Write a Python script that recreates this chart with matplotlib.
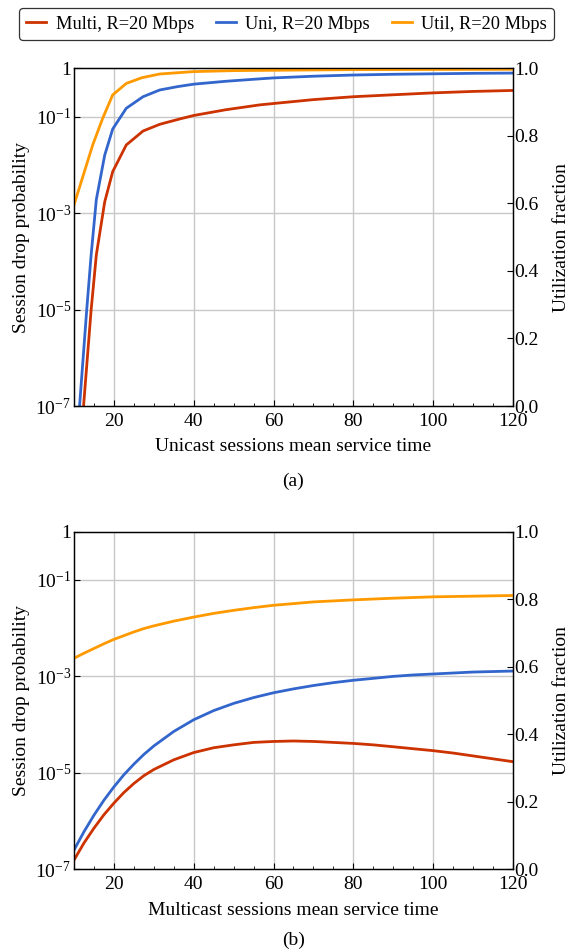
import matplotlib
matplotlib.use("Agg")
import matplotlib.pyplot as plt
from matplotlib.lines import Line2D

plt.rcParams["font.family"] = ["Liberation Serif", "DejaVu Serif"]
plt.rcParams["mathtext.fontset"] = "custom"
plt.rcParams["mathtext.rm"] = "Liberation Serif"
plt.rcParams["mathtext.it"] = "Liberation Serif:italic"
plt.rcParams["font.size"] = 14

# ---- panel (a): vs unicast mean service time ----
a_multi_x = [12.0, 12.4, 14.3, 15.6, 17.7, 19.7, 23.1, 27.3, 31.5, 36.5, 40, 48, 56.5, 60,
             70, 80, 90, 100, 110, 120]
a_multi_p = [4e-8, 1.0e-7, 9.8e-6, 1.35e-4, 1.7e-3, 7.2e-3, 0.0257, 0.050, 0.069, 0.089,
             0.105, 0.138, 0.174, 0.186, 0.224, 0.257, 0.282, 0.309, 0.331, 0.347]
a_uni_x = [11.0, 11.4, 13.2, 14.3, 15.6, 17.7, 19.7, 23.1, 27.3, 31.5, 36, 40, 48, 56.5, 60,
           70, 80, 90, 100, 110, 120]
a_uni_p = [3.5e-8, 1.0e-7, 1.0e-5, 1.35e-4, 1.9e-3, 0.0158, 0.055, 0.148, 0.257, 0.355,
           0.417, 0.468, 0.537, 0.603, 0.631, 0.684, 0.724, 0.750, 0.767, 0.785, 0.794]
a_util_x = [10, 14.7, 17.2, 19.7, 23.1, 27, 31.5, 39.8, 50, 60, 80, 120]
a_util_u = [0.595, 0.773, 0.852, 0.921, 0.955, 0.972, 0.983, 0.990, 0.993, 0.994, 0.996, 0.997]

# ---- panel (b): vs multicast mean service time ----
b_multi_x = [10, 12.5, 15, 17.5, 20, 22.5, 25, 27.5, 30, 35, 40, 45, 50, 55, 60, 65, 70,
             75, 80, 85, 90, 95, 100, 105, 110, 115, 120]
b_multi_p = [1.55e-7, 3.5e-7, 7.1e-7, 1.35e-6, 2.35e-6, 3.9e-6, 6.0e-6, 8.7e-6, 1.17e-5,
             1.86e-5, 2.63e-5, 3.31e-5, 3.8e-5, 4.27e-5, 4.47e-5, 4.57e-5, 4.47e-5, 4.27e-5,
             4.07e-5, 3.8e-5, 3.47e-5, 3.16e-5, 2.88e-5, 2.57e-5, 2.24e-5, 1.95e-5, 1.7e-5]
b_uni_x = [10, 12.5, 15, 17.5, 20, 22.5, 25, 27.5, 30, 35, 40, 45, 50, 55, 60, 65, 70, 75,
           80, 85, 90, 95, 100, 110, 120]
b_uni_p = [2.5e-7, 6.0e-7, 1.32e-6, 2.7e-6, 5.1e-6, 9.1e-6, 1.51e-5, 2.4e-5, 3.6e-5,
           7.2e-5, 1.26e-4, 1.95e-4, 2.75e-4, 3.63e-4, 4.57e-4, 5.5e-4, 6.46e-4, 7.41e-4,
           8.3e-4, 9.1e-4, 1.0e-3, 1.07e-3, 1.12e-3, 1.23e-3, 1.29e-3]
b_util_x = [10, 12.5, 15, 17.5, 20, 22.5, 25, 27.5, 30, 35, 40, 45, 50, 55, 60, 70, 80, 90,
            100, 110, 120]
b_util_u = [0.625, 0.640, 0.654, 0.668, 0.681, 0.692, 0.703, 0.713, 0.721, 0.735, 0.747,
            0.758, 0.767, 0.775, 0.782, 0.792, 0.798, 0.803, 0.807, 0.809, 0.811]

labels = ["Multi, R=20 Mbps", "Uni, R=20 Mbps", "Util, R=20 Mbps"]
c_multi, c_uni, c_util = "#CC3300", "#3366CC", "#FF9900"

y_ticks = [1, 1e-1, 1e-3, 1e-5, 1e-7]
y_ticklabels = ["1", r"$10^{-1}$", r"$10^{-3}$", r"$10^{-5}$", r"$10^{-7}$"]
x_ticks = [20, 40, 60, 80, 100, 120]

fig = plt.figure(figsize=(5.69, 9.52), dpi=100)


def panel(rect, mx, mp, ux, up, tx, tu, xlabel, tag, tag_y):
    ax = fig.add_axes(rect)
    ax.set_yscale("log")
    ax.set_xlim(10, 120)
    ax.set_ylim(1e-7, 1)
    ax.set_yticks(y_ticks)
    ax.set_yticklabels(y_ticklabels)
    ax.yaxis.set_minor_locator(matplotlib.ticker.NullLocator())
    ax.set_xticks(x_ticks)
    ax.set_xticks(range(15, 120, 5), minor=True)
    ax.tick_params(direction="in", length=4, width=0.8, top=False, right=False)
    ax.tick_params(axis="x", pad=5)
    ax.tick_params(axis="y", pad=2)
    ax.tick_params(which="minor", direction="in", length=2.5, width=0.6)
    for v in [20, 40, 60, 80, 100]:
        ax.axvline(v, color="#c8c8c8", lw=1.0, zorder=0)
    for v in [1e-1, 1e-3, 1e-5]:
        ax.axhline(v, color="#c8c8c8", lw=1.0, zorder=0)
    ax.plot(mx, mp, color=c_multi, lw=2.0)
    ax.plot(ux, up, color=c_uni, lw=2.0)
    ax.set_ylabel("Session drop probability", labelpad=4)
    ax.set_xlabel(xlabel, labelpad=6)
    ax2 = ax.twinx()
    ax2.set_ylim(0, 1)
    ax2.set_yticks([0, 0.2, 0.4, 0.6, 0.8, 1.0])
    ax2.set_yticklabels(["0.0", "0.2", "0.4", "0.6", "0.8", "1.0"])
    ax2.tick_params(direction="in", length=4, width=0.8, pad=1)
    ax2.plot(tx, tu, color=c_util, lw=2.0)
    ax2.set_ylabel("Utilization fraction", labelpad=10)
    for a in (ax, ax2):
        for s in a.spines.values():
            s.set_linewidth(0.9)
    ax.text(0.5, tag_y, tag, transform=ax.transAxes, ha="center", va="center")
    return ax


panel([0.130, 0.5735, 0.7716, 0.3548], a_multi_x, a_multi_p, a_uni_x, a_uni_p,
      a_util_x, a_util_u, "Unicast sessions mean service time", "(a)", -0.222)
panel([0.130, 0.0869, 0.7716, 0.3546], b_multi_x, b_multi_p, b_uni_x, b_uni_p,
      b_util_x, b_util_u, "Multicast sessions mean service time", "(b)", -0.212)

handles = [Line2D([], [], color=c, lw=2.0) for c in (c_multi, c_uni, c_util)]
leg = fig.legend(handles, labels, loc="center", bbox_to_anchor=(0.5035, 0.9745), ncol=3,
                 frameon=True, fancybox=True, edgecolor="black", handlelength=1.1,
                 columnspacing=1.2, handletextpad=0.5, borderpad=0.4, borderaxespad=0,
                 fontsize=13.2)
leg.get_frame().set_linewidth(0.9)

fig.savefig("out.png", dpi=100)
